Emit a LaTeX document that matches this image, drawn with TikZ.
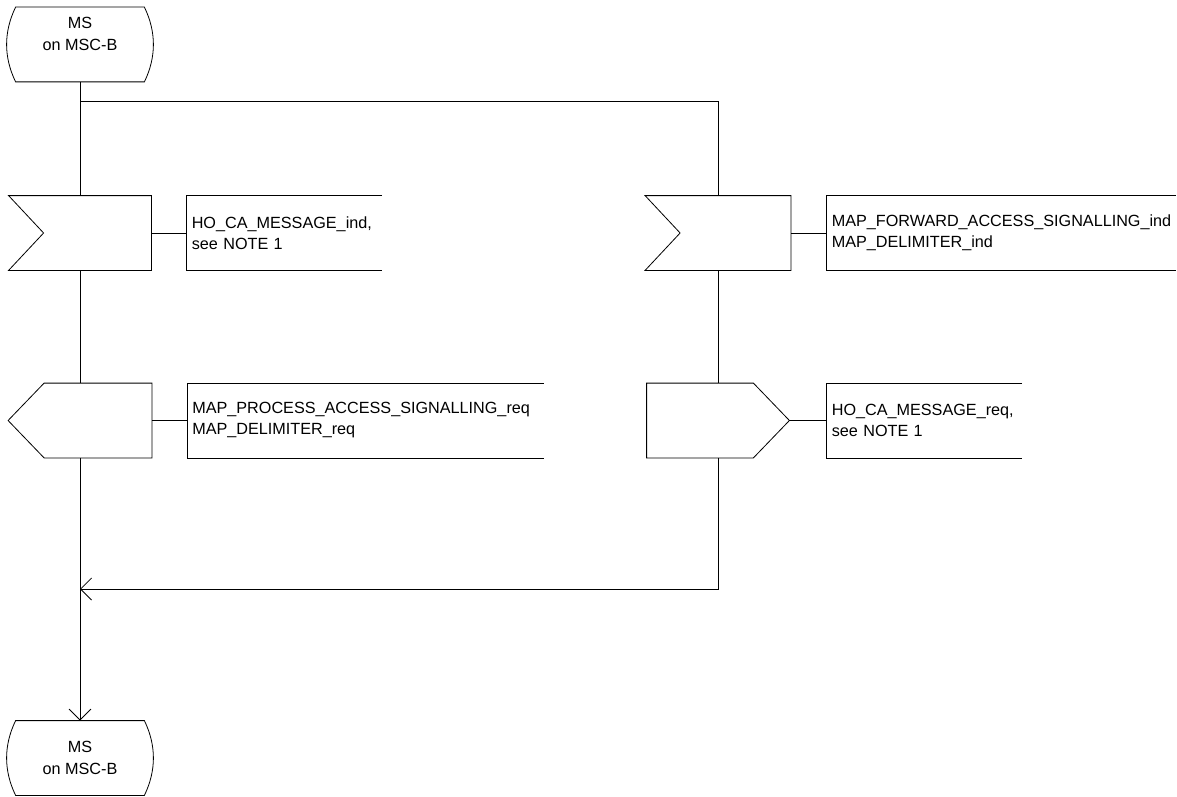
\documentclass[tikz,border=0pt]{standalone}
\usepackage{fontspec}
\setmainfont{Liberation Sans}
\usetikzlibrary{positioning,arrows.meta,calc}

\tikzset{
  sdl/.style={inner sep=0pt,minimum height=74pt},
  state/.style={sdl,minimum width=128pt,align=center,font=\fontsize{16.2}{22}\selectfont},
  sig/.style={sdl,minimum width=#1},
  note/.style={sdl,inner xsep=5pt,text width=#1,align=left},
  tip/.style={-{Straight Barb[length=11pt,width=22pt]}}
}

\begin{document}
\begin{tikzpicture}[x=1pt,y=-1pt,line width=0.8pt,font=\fontsize{16.2}{21}\selectfont]
  \useasboundingbox (0,0) rectangle (1177,797);

  % start and end of the process
  \node[state,text depth=21pt] (start) at (80,44.5) {MS\\on MSC-B};
  \node[state] (stop) at (80,758) {MS\\on MSC-B};

  % left column
  \node[sig=142pt] (in1) at (80,233) {};
  \node[sig=143pt] (out1) at (80,420.5) {};
  % right column
  \node[sig=145pt] (in2) at (718,233) {};
  \node[sig=142pt] (out2) at (718,420.5) {};

  % comments
  \node[note=185pt,right=35pt of in1] (cm1) {HO\_CA\_MESSAGE\_ind,\\see NOTE 1};
  \node[note=346pt,right=35pt of out1] (cm2) {MAP\_PROCESS\_ACCESS\_SIGNALLING\_req\\MAP\_DELIMITER\_req};
  \node[note=339pt,right=35.5pt of in2] (cm3) {MAP\_FORWARD\_ACCESS\_SIGNALLING\_ind\\MAP\_DELIMITER\_ind};
  \node[note=185pt,right=37pt of out2] (cm4) {HO\_CA\_MESSAGE\_req,\\see NOTE 1};

  % outlines
  \foreach \n in {start,stop}
    \draw (\n.north west) -- (\n.north east) .. controls +(12,25) and +(12,-25) .. (\n.south east)
      -- (\n.south west) .. controls +(-12,-25) and +(-12,25) .. (\n.north west) -- cycle;
  \foreach \n in {in1,in2}
    \draw (\n.north west) -- (\n.north east) -- (\n.south east) -- (\n.south west)
      -- ($(\n.west)+(35,0)$) -- cycle;
  \draw ($(out1.north west)+(36,0)$) -- (out1.north east) -- (out1.south east)
    -- ($(out1.south west)+(36,0)$) -- (out1.west) -- cycle;
  \draw (out2.north west) -- ($(out2.north east)+(-36,0)$) -- (out2.east)
    -- ($(out2.south east)+(-36,0)$) -- (out2.south west) -- cycle;
  \foreach \n in {cm1,cm2,cm3,cm4}
    \draw (\n.north east) -- (\n.north west) -- (\n.south west) -- (\n.south east);

  % flow lines
  \coordinate (split) at (80,101);
  \coordinate (join) at (80,589);
  \draw (start.south) -- (in1.north);
  \draw (split) -| (in2.north);
  \draw (in1.south) -- (out1.north);
  \draw (in2.south) -- (out2.north);
  \draw[tip] (out2.south) |- (join);
  \draw[tip] (out1.south) -- (stop.north);
  \foreach \a/\b in {in1/cm1,out1/cm2,in2/cm3,out2/cm4}
    \draw (\a.east) -- (\b.west);
\end{tikzpicture}
\end{document}
